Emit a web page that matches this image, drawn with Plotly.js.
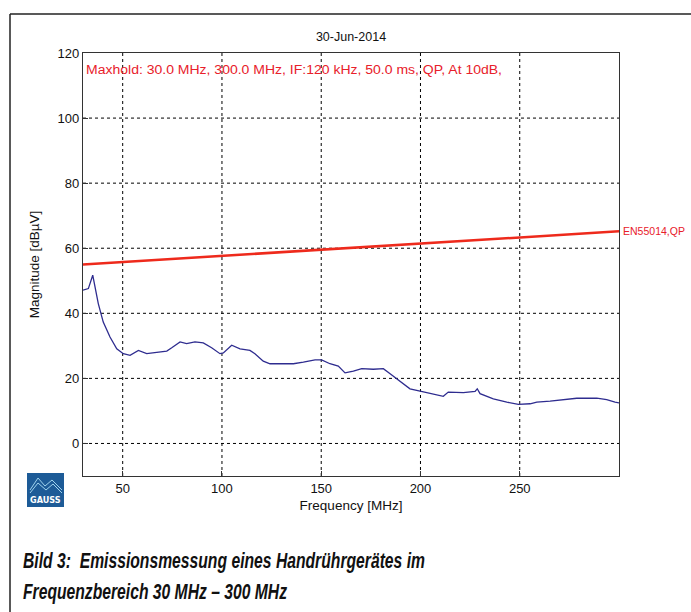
<!DOCTYPE html>
<html>
<head>
<meta charset="utf-8">
<script src="https://cdn.plot.ly/plotly-3.0.1.min.js"></script>
<style>
html,body{margin:0;padding:0;background:#fff;}
#chart{width:691px;height:612px;}
</style>
</head>
<body>
<div id="chart"></div>
<script>
// Measured trace (Maxhold, QP) – frequency in MHz, magnitude in dBµV
const freqMHz = [30, 32.7, 34.9, 36, 37.7, 40.2, 43.6, 47, 50.3, 53.7, 57.9, 62.1, 67.1, 72.2, 74.7, 78.9, 82.2, 86.4, 90.6, 94.8, 99, 100.7, 104.9, 109.1, 114.1, 116.6, 120.8, 124.2, 130.9, 136, 141, 146.9, 150.2, 154.4, 158.6, 162, 166.2, 170.4, 176.2, 181.3, 184.7, 188.8, 194.7, 199.8, 204.8, 209.8, 211.5, 214, 221.6, 227.5, 228.6, 230, 236.7, 243.5, 249.3, 255.2, 258.6, 265.3, 272, 278.7, 288.8, 293.8, 298, 300];
const magnitude = [47.1, 47.6, 51.7, 48.6, 43, 37.3, 32.7, 29.1, 27.6, 27.1, 28.6, 27.6, 28.1, 28.4, 29.4, 31.2, 30.7, 31.2, 30.9, 29.4, 27.6, 27.8, 30.2, 29.1, 28.6, 27.6, 25.3, 24.5, 24.5, 24.5, 25, 25.7, 25.7, 24.5, 23.8, 21.7, 22.2, 23, 22.8, 23, 21.4, 19.6, 16.8, 16.1, 15.5, 14.8, 14.5, 15.8, 15.6, 16, 16.8, 15.3, 13.7, 12.7, 12, 12.2, 12.7, 13, 13.4, 13.9, 13.9, 13.5, 12.7, 12.5];

// Limit line EN55014, QP
const limitFreq = [30, 100, 150, 200, 250, 300];
const limitValue = [55, 57.7, 59.6, 61.4, 63.3, 65.2];

const xTicks = [50, 100, 150, 200, 250];
const yTicks = [0, 20, 40, 60, 80, 100, 120];

const chartTitle = '30-Jun-2014';
const infoText = 'Maxhold: 30.0 MHz, 300.0 MHz, IF:120 kHz, 50.0 ms, QP, At 10dB,';
const limitLabel = 'EN55014,QP';
const xTitle = 'Frequency [MHz]';
const yTitle = 'Magnitude [dBµV]';
const caption1 = 'Bild 3:  Emissionsmessung eines Handrührgerätes im';
const caption2 = 'Frequenzbereich 30 MHz – 300 MHz';

// plot area in pixels
const L = 83, R = 619, T = 53, B = 476, W = 691, H = 612;
const px = x => (x - L) / (R - L);
const py = y => (B - y) / (B - T);

const font = 'Liberation Sans, Arial, sans-serif';
const red = '#e8202a';
const capFont = {family: 'Liberation Sans, Arial, sans-serif', size: 22, color: '#111', weight: 'bold', style: 'italic'};

const traces = [
  {x: limitFreq, y: limitValue, type: 'scatter', mode: 'lines',
   line: {color: '#ee2a1c', width: 2.6}, hoverinfo: 'skip'},
  {x: freqMHz, y: magnitude, type: 'scatter', mode: 'lines',
   line: {color: '#2e2c8f', width: 1.3}, hoverinfo: 'skip'}
];

const gridStyle = {color: '#000', width: 1, dash: '3px,3px'};

const layout = {
  width: W, height: H,
  margin: {l: L, r: W - R, t: T, b: H - B, pad: 0},
  paper_bgcolor: '#ffffff',
  plot_bgcolor: '#ffffff',
  showlegend: false,
  font: {family: font, size: 12, color: '#111'},
  title: {text: chartTitle, x: 0.5, xref: 'paper', y: 1 - 37 / H, yanchor: 'middle',
          font: {family: font, size: 12.5, color: '#111'}},
  xaxis: {
    range: [30, 300], tickvals: xTicks, ticktext: xTicks.map(String),
    showgrid: false, zeroline: false, showline: true, linecolor: '#333', linewidth: 1.2,
    mirror: true, ticks: 'inside', ticklen: 5, tickcolor: '#333',
    tickfont: {family: font, size: 13, color: '#111'},
    title: {text: xTitle, standoff: 5, font: {family: font, size: 13.5, color: '#111'}}
  },
  yaxis: {
    range: [-10, 120], tickvals: yTicks, ticktext: yTicks.map(String),
    showgrid: false, zeroline: false, showline: true, linecolor: '#333', linewidth: 1.2,
    mirror: true, ticks: 'inside', ticklen: 5, tickcolor: '#333',
    tickfont: {family: font, size: 13, color: '#111'},
    title: {text: yTitle, standoff: 14, font: {family: font, size: 13.5, color: '#111'}}
  },
  shapes: [],
  annotations: [
    {text: infoText, xref: 'paper', yref: 'paper', x: px(84), y: py(70), xanchor: 'left', yanchor: 'middle',
     showarrow: false, font: {family: font, size: 12.5, color: red}},
    {text: limitLabel, xref: 'paper', yref: 'paper', x: px(621), y: py(231), xanchor: 'left', yanchor: 'middle',
     showarrow: false, font: {family: font, size: 11.5, color: red}},
    {text: caption1, xref: 'paper', yref: 'paper', x: px(21), y: py(560), xanchor: 'left', yanchor: 'middle',
     showarrow: false, font: capFont},
    {text: caption2, xref: 'paper', yref: 'paper', x: px(21), y: py(591), xanchor: 'left', yanchor: 'middle',
     showarrow: false, font: capFont},
    {text: '<b>GAUSS</b>', xref: 'paper', yref: 'paper', x: px(45.5), y: py(500), xanchor: 'center', yanchor: 'middle',
     showarrow: false, font: {family: 'DejaVu Sans Condensed, Liberation Sans, sans-serif', size: 9, color: '#ffffff'}}
  ]
};

// dashed grid lines drawn from the tick arrays in data coordinates
xTicks.forEach(v => layout.shapes.push({type: 'line', xref: 'x', yref: 'paper', x0: v, x1: v, y0: 0, y1: 1, line: gridStyle, layer: 'below'}));
yTicks.filter(v => v < 120).forEach(v => layout.shapes.push({type: 'line', xref: 'paper', yref: 'y', x0: 0, x1: 1, y0: v, y1: v, line: gridStyle, layer: 'below'}));

// outer frame (top and left)
layout.shapes.push({type: 'line', xref: 'paper', yref: 'paper', x0: px(10), x1: px(691), y0: py(14), y1: py(14), line: {color: '#222', width: 1.5}});
layout.shapes.push({type: 'line', xref: 'paper', yref: 'paper', x0: px(10), x1: px(10), y0: py(14), y1: py(612), line: {color: '#222', width: 1.5}});

// logo block
layout.shapes.push({type: 'rect', xref: 'paper', yref: 'paper', x0: px(27), x1: px(64), y0: py(473), y1: py(507), fillcolor: '#1d5b97', line: {width: 0}});
const mtn1 = 'M ' + px(30) + ' ' + py(490) + ' L ' + px(38) + ' ' + py(478) + ' L ' + px(45) + ' ' + py(486) + ' L ' + px(52) + ' ' + py(480) + ' L ' + px(62) + ' ' + py(490);
const mtn2 = 'M ' + px(30) + ' ' + py(493) + ' L ' + px(38) + ' ' + py(483) + ' L ' + px(46) + ' ' + py(490) + ' L ' + px(53) + ' ' + py(484) + ' L ' + px(62) + ' ' + py(493);
layout.shapes.push({type: 'path', xref: 'paper', yref: 'paper', path: mtn1, line: {color: '#9fd3ee', width: 1}});
layout.shapes.push({type: 'path', xref: 'paper', yref: 'paper', path: mtn2, line: {color: '#9fd3ee', width: 1}});

// target text widths (px) from the reference, applied as SVG textLength
const fitWidths = {};
fitWidths[infoText] = 416;
fitWidths[limitLabel] = 62;
fitWidths[caption1] = 402;
fitWidths[caption2] = 264;

Plotly.newPlot('chart', traces, layout, {staticPlot: true, displayModeBar: false}).then(() => {
  document.querySelectorAll('.annotation-text').forEach(t => {
    const w = fitWidths[t.textContent];
    if (!w) return;
    const bb = t.getBBox();
    t.setAttribute('text-anchor', 'start');
    t.setAttribute('x', bb.x);
    t.setAttribute('textLength', w);
    t.setAttribute('lengthAdjust', 'spacingAndGlyphs');
  });
});
</script>
</body>
</html>
